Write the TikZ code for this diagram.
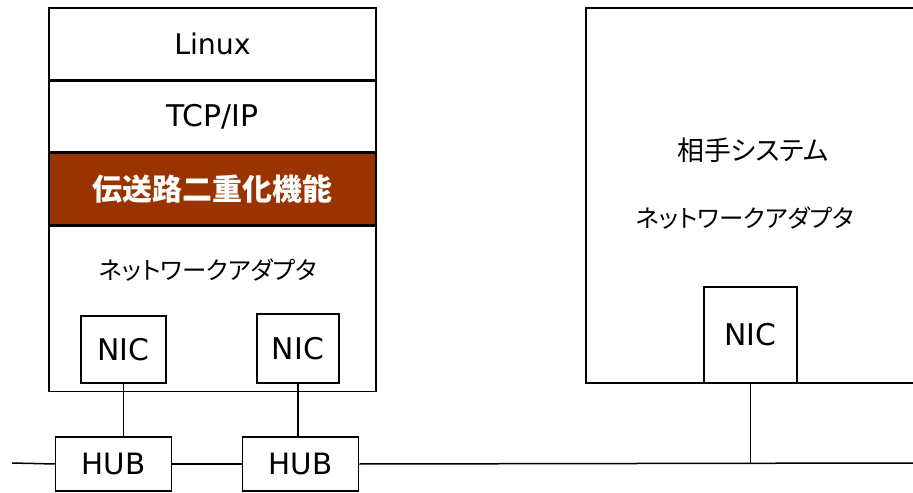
\documentclass[tikz,border=0pt]{standalone}
\usepackage{fontspec}
\setmainfont{DejaVu Sans}
\newfontfamily\jp[RawFeature=+palt]{Noto Sans CJK JP}
\usepackage{xcolor}
\usepackage{tikz}
\usetikzlibrary{positioning,calc}

\definecolor{dupbrown}{HTML}{993300}

\tikzset{
    layer/.style={draw, line width=1.5bp, minimum width=327bp, inner sep=0pt},
    nicbox/.style={draw, fill=white, line width=1.5bp, inner sep=0pt, font=\fontsize{30}{32}\selectfont},
    hubbox/.style={draw, fill=white, line width=1.5bp, minimum width=116bp, minimum height=54bp, inner sep=0pt, font=\fontsize{29.5}{32}\selectfont},
    wire/.style={line width=1.5bp}
}

\begin{document}
\begin{tikzpicture}[x=1bp, y=-1bp]
        \clip (0,0) rectangle (913,493);
        \fill[white] (0,0) rectangle (913,493);

        % own system
        \node[layer, minimum height=72bp, font=\fontsize{28.5}{30}\selectfont] at (212.5,44) (linux) {Linux};
        \node[layer, minimum height=70bp, font=\fontsize{30}{32}\selectfont, below=0pt of linux] (tcp) {TCP/IP};
        \node[layer, minimum height=72bp, fill=dupbrown, text=white, font=\jp\bfseries\fontsize{30}{32}\selectfont, below=0pt of tcp] (dup) {伝送路二重化機能};
        \node[layer, minimum height=165bp, below=0pt of dup] (adp) {};
        \node[font=\jp\fontsize{24.5}{28}\selectfont] at (208,270) (adptxt) {ネットワークアダプタ};
        \node[nicbox, minimum width=85bp, minimum height=67bp] at (123.5,349.5) (nic1) {NIC};
        \node[nicbox, minimum width=82bp, minimum height=69bp] at (298,348.5) (nic2) {NIC};

        % peer system
        \node[layer, minimum width=400bp, minimum height=375bp] at (786,195.5) (peer) {};
        \node[font=\jp\fontsize{27}{30}\selectfont] at (753,150) (peertxt) {相手システム};
        \node[font=\jp\fontsize{24.5}{28}\selectfont] at (745,218) (peeradp) {ネットワークアダプタ};
        \node[nicbox, minimum width=93bp, minimum height=96bp] at (750.5,335) (nic3) {NIC};

        % hubs and bus
        \node[hubbox] at (113.5,464) (hub1) {HUB};
        \node[hubbox] at (300.5,464) (hub2) {HUB};
        \coordinate (busl) at (12,463);
        \coordinate (busr) at (913,463);
        \coordinate (tap) at (nic3.south |- busr);

        \draw[wire] (busl) -- (hub1.west);
        \draw[wire] (hub1.east) -- (hub2.west);
        \draw[wire] (hub2.east) -- (busr);
        \draw[wire] (nic1.south) -- (nic1.south |- hub1.north);
        \draw[wire] (nic2.south) -- (nic2.south |- hub2.north);
        \draw[wire] (nic3.south) -- (tap);
    \end{tikzpicture}
\end{document}
